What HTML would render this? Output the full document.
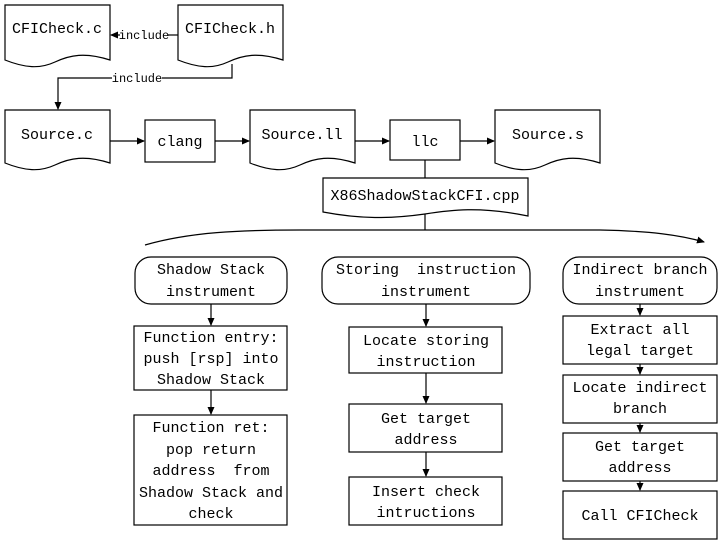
<!DOCTYPE html>
<html><head><meta charset="utf-8"><style>
html,body{margin:0;padding:0;background:#fff;}
svg{display:block}
text{font-family:"Liberation Mono","Noto Serif CJK SC",monospace;font-size:15px;fill:#000;text-anchor:middle;white-space:pre}
.s{font-size:12px}
</style></head><body>
<svg width="724" height="542" viewBox="0 0 724 542" xmlns="http://www.w3.org/2000/svg">
<defs><marker id="a" markerWidth="8" markerHeight="8" refX="7" refY="4" orient="auto" markerUnits="userSpaceOnUse"><path d="M0,0.5 L8,4 L0,7.5 z" fill="#000"/></marker></defs>
<g fill="#fff" stroke="#000" stroke-width="1.2">
<path d="M5,5 H110 V60 C85,52 70,55 55,62 C40,69 25,68 5,60 Z"/>
<path d="M178,5 H283 V60 C258,52 243,55 228,62 C213,69 198,68 178,60 Z"/>
<path d="M5,110 H110 V163 C85,155 70,158 55,165 C40,172 25,171 5,163 Z"/>
<path d="M250,110 H355 V163 C330,155 315,158 300,165 C285,172 270,171 250,163 Z"/>
<path d="M495,110 H600 V163 C575,155 560,158 545,165 C530,172 515,171 495,163 Z"/>
<path d="M323,178 H528 V216 C480,206 450,210 425,214 C390,219 360,219 323,212 Z"/>
<rect x="145" y="120" width="70" height="42"/>
<rect x="390" y="120" width="70" height="40"/>
<rect x="135" y="257" width="152" height="47" rx="16"/>
<rect x="322" y="257" width="208" height="47" rx="16"/>
<rect x="563" y="257" width="154" height="47" rx="16"/>
<rect x="134" y="326" width="153" height="64"/>
<rect x="134" y="415" width="153" height="110"/>
<rect x="349" y="327" width="153" height="46"/>
<rect x="349" y="404" width="153" height="48"/>
<rect x="349" y="477" width="153" height="48"/>
<rect x="563" y="316" width="154" height="48"/>
<rect x="563" y="375" width="154" height="48"/>
<rect x="563" y="433" width="154" height="48"/>
<rect x="563" y="491" width="154" height="48"/>
</g>
<g fill="none" stroke="#000" stroke-width="1.2">
<line x1="178" y1="35" x2="168" y2="35"/>
<line x1="120" y1="35" x2="111" y2="35" marker-end="url(#a)"/>
<path d="M232,64 V78 H162"/>
<path d="M112,78 H58 V109" marker-end="url(#a)"/>
<line x1="110" y1="141" x2="144" y2="141" marker-end="url(#a)"/>
<line x1="215" y1="141" x2="249" y2="141" marker-end="url(#a)"/>
<line x1="355" y1="141" x2="389" y2="141" marker-end="url(#a)"/>
<line x1="460" y1="141" x2="494" y2="141" marker-end="url(#a)"/>
<line x1="425" y1="160" x2="425" y2="178"/>
<line x1="425" y1="214" x2="425" y2="230"/>
<path d="M145,245 C190,232 240,230 300,230 H600 C650,231 680,235 704,242" marker-end="url(#a)"/>
<line x1="211" y1="304" x2="211" y2="325" marker-end="url(#a)"/>
<line x1="211" y1="390" x2="211" y2="414" marker-end="url(#a)"/>
<line x1="426" y1="304" x2="426" y2="326" marker-end="url(#a)"/>
<line x1="426" y1="373" x2="426" y2="403" marker-end="url(#a)"/>
<line x1="426" y1="452" x2="426" y2="476" marker-end="url(#a)"/>
<line x1="640" y1="304" x2="640" y2="315" marker-end="url(#a)"/>
<line x1="640" y1="364" x2="640" y2="374" marker-end="url(#a)"/>
<line x1="640" y1="423" x2="640" y2="432" marker-end="url(#a)"/>
<line x1="640" y1="481" x2="640" y2="490" marker-end="url(#a)"/>
</g>
<text class="s" x="144" y="39">include</text>
<text class="s" x="137" y="82">include</text>
<text x="57" y="33">CFICheck.c</text>
<text x="230" y="33">CFICheck.h</text>
<text x="57" y="139">Source.c</text>
<text x="180" y="146">clang</text>
<text x="302" y="139">Source.ll</text>
<text x="425" y="146">llc</text>
<text x="548" y="139">Source.s</text>
<text x="425" y="200">X86ShadowStackCFI.cpp</text>
<text x="211" y="274">Shadow Stack</text>
<text x="211" y="296">instrument</text>
<text x="426" y="274" xml:space="preserve">Storing  instruction</text>
<text x="426" y="296">instrument</text>
<text x="640" y="274">Indirect branch</text>
<text x="640" y="296">instrument</text>
<text x="211" y="342">Function entry:</text>
<text x="211" y="363">push [rsp] into</text>
<text x="211" y="384">Shadow Stack</text>
<text x="211" y="432">Function ret:</text>
<text x="211" y="454">pop return</text>
<text x="211" y="475" xml:space="preserve">address  from</text>
<text x="211" y="497">Shadow Stack and</text>
<text x="211" y="518">check</text>
<text x="426" y="345">Locate storing</text>
<text x="426" y="366">instruction</text>
<text x="426" y="423">Get target</text>
<text x="426" y="444">address</text>
<text x="426" y="496">Insert check</text>
<text x="426" y="517">intructions</text>
<text x="640" y="334">Extract all</text>
<text x="640" y="355">legal target</text>
<text x="640" y="392">Locate indirect</text>
<text x="640" y="413">branch</text>
<text x="640" y="451">Get target</text>
<text x="640" y="472">address</text>
<text x="640" y="520">Call CFICheck</text>
</svg>
</body></html>
